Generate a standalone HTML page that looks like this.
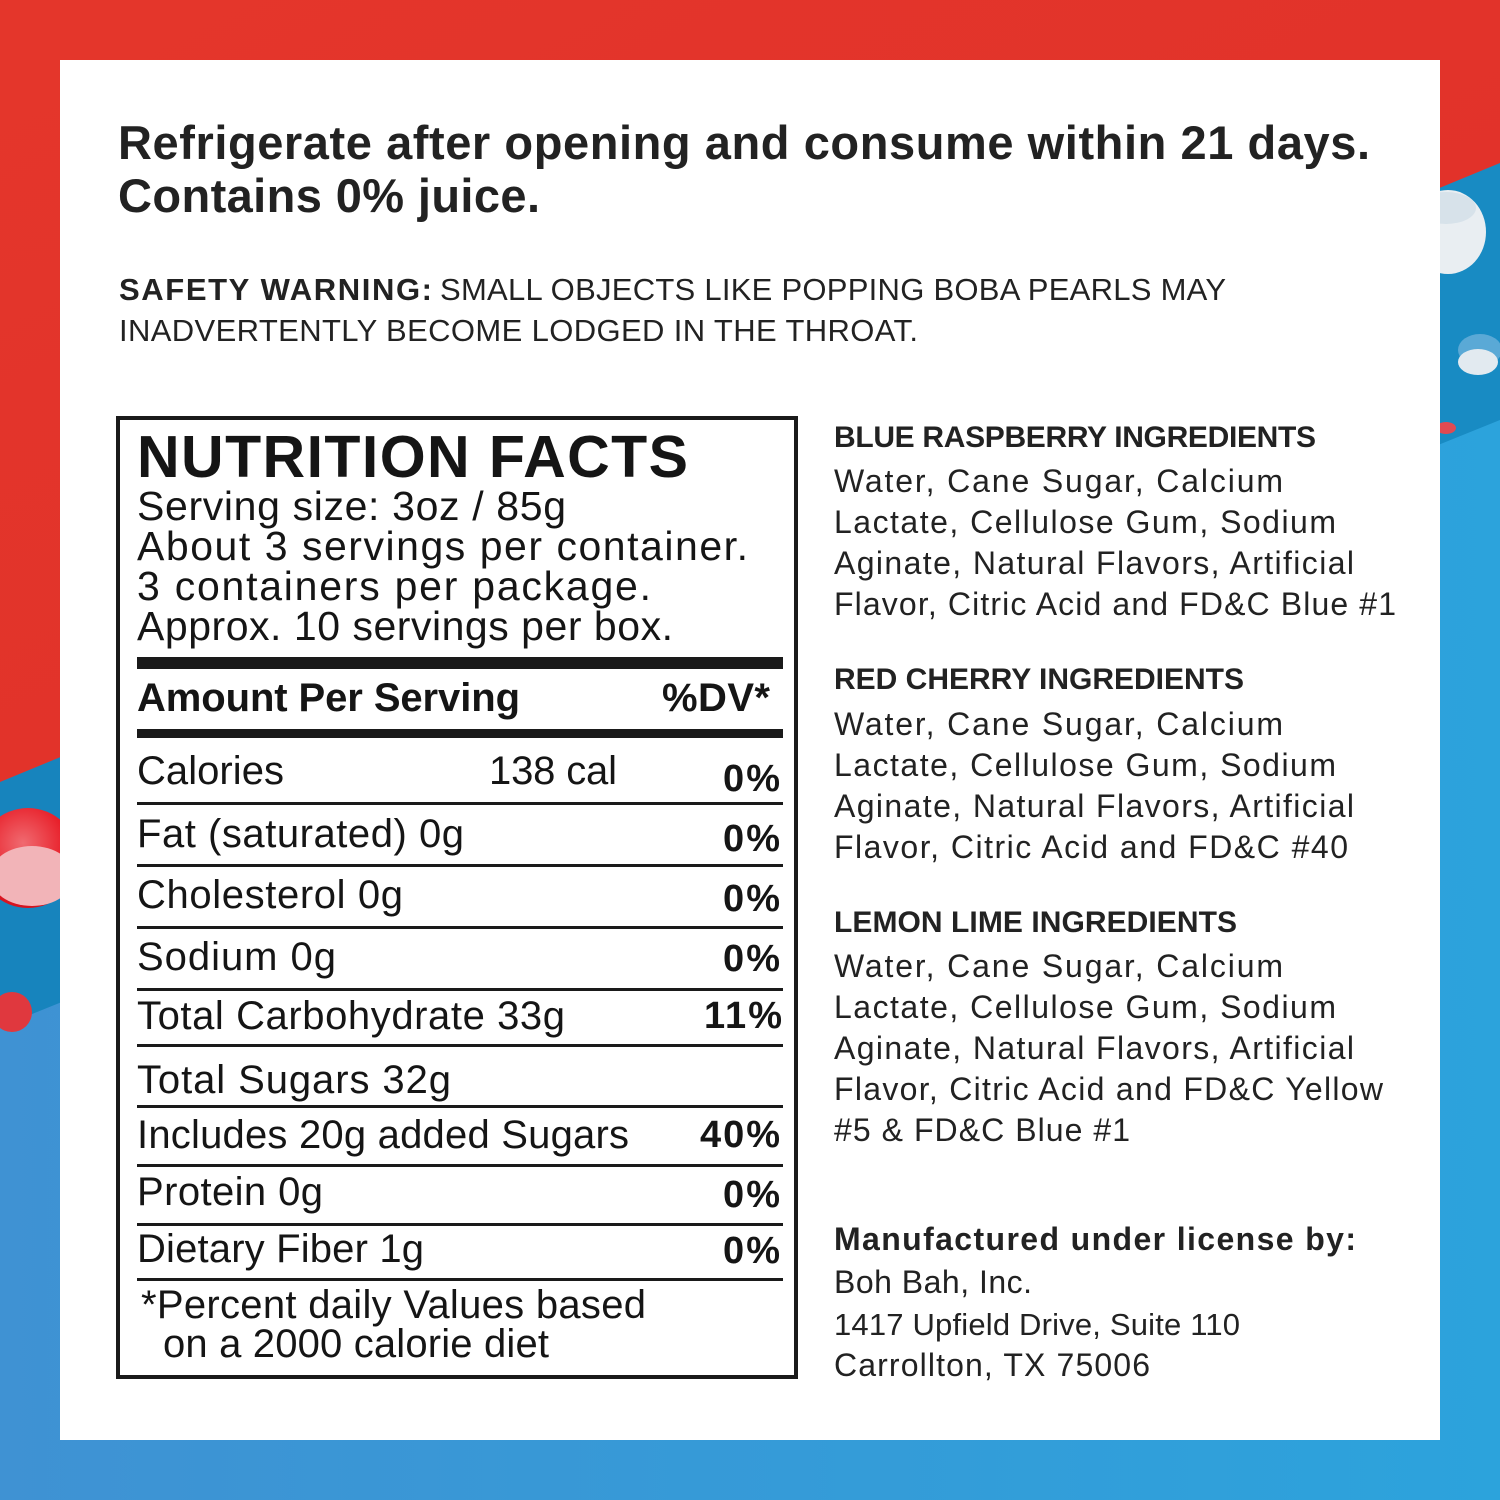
<!DOCTYPE html>
<html>
<head>
<meta charset="utf-8">
<style>
  html,body{margin:0;padding:0;width:1500px;height:1500px;overflow:hidden;background:#fff;}
  svg{display:block;}
  text{font-family:"Liberation Sans", Arial, sans-serif;}
  .d{fill:#222;}
  .n{fill:#151515;}
</style>
</head>
<body>
<svg width="1500" height="1500" viewBox="0 0 1500 1500" xmlns="http://www.w3.org/2000/svg">
  <defs>
    <linearGradient id="red" x1="0" y1="0" x2="1" y2="1">
      <stop offset="0" stop-color="#e4362b"/>
      <stop offset="1" stop-color="#e0302a"/>
    </linearGradient>
    <linearGradient id="lb" x1="0" y1="0" x2="1" y2="0">
      <stop offset="0" stop-color="#3f92d3"/>
      <stop offset="1" stop-color="#2ca3dc"/>
    </linearGradient>
    <linearGradient id="db" x1="0" y1="0" x2="1" y2="0">
      <stop offset="0" stop-color="#1784bd"/>
      <stop offset="1" stop-color="#188bc3"/>
    </linearGradient>
    <radialGradient id="rb" cx="0.45" cy="0.35" r="0.7">
      <stop offset="0" stop-color="#f06a70"/>
      <stop offset="0.6" stop-color="#e8202a"/>
      <stop offset="1" stop-color="#d0101c"/>
    </radialGradient>
  </defs>

  <!-- background -->
  <rect x="0" y="0" width="1500" height="1500" fill="url(#lb)"/>
  <polygon points="0,1027 1500,420 1500,0 0,0" fill="url(#db)"/>
  <polygon points="0,782 1500,163 1500,0 0,0" fill="url(#red)"/>

  <!-- bubbles right -->
  <ellipse cx="1448" cy="232" rx="38" ry="42" fill="#e9eef2"/>
  <ellipse cx="1446" cy="208" rx="30" ry="16" fill="#cfdde7" opacity="0.7"/>
  <ellipse cx="1480" cy="350" rx="22" ry="16" fill="#5aa9d6"/>
  <ellipse cx="1478" cy="362" rx="20" ry="13" fill="#e2eaf0"/>
  <ellipse cx="1446" cy="428" rx="10" ry="6" fill="#e04a52"/>

  <!-- bubbles left -->
  <circle cx="28" cy="858" r="50" fill="url(#rb)"/>
  <ellipse cx="32" cy="876" rx="42" ry="30" fill="#f2b4b8"/>
  <circle cx="12" cy="1012" r="20" fill="#e0383e"/>

  <!-- white panel -->
  <rect x="60" y="60" width="1380" height="1380" fill="#ffffff"/>

  <!-- top heading -->
  <text class="d" x="118" y="159" font-size="47" font-weight="700" textLength="1252" lengthAdjust="spacing">Refrigerate after opening and consume within 21 days.</text>
  <text class="d" x="118" y="212" font-size="47" font-weight="700" textLength="422" lengthAdjust="spacing">Contains 0% juice.</text>

  <!-- safety warning -->
  <text class="d" x="119" y="300" font-size="31" font-weight="700" textLength="313" lengthAdjust="spacing">SAFETY WARNING:</text>
  <text class="d" x="440" y="300" font-size="31" textLength="786" lengthAdjust="spacing">SMALL OBJECTS LIKE POPPING BOBA PEARLS MAY</text>
  <text class="d" x="119" y="341" font-size="31" textLength="799" lengthAdjust="spacing">INADVERTENTLY BECOME LODGED IN THE THROAT.</text>

  <!-- nutrition box -->
  <rect x="118" y="418" width="678" height="959" fill="none" stroke="#1a1a1a" stroke-width="4"/>
  <text class="n" x="137" y="477" font-size="59" font-weight="700" textLength="551" lengthAdjust="spacing">NUTRITION FACTS</text>
  <text class="n" x="137" y="520" font-size="41" textLength="429" lengthAdjust="spacing">Serving size: 3oz / 85g</text>
  <text class="n" x="137" y="560" font-size="41" textLength="611" lengthAdjust="spacing">About 3 servings per container.</text>
  <text class="n" x="137" y="600" font-size="41" textLength="514" lengthAdjust="spacing">3 containers per package.</text>
  <text class="n" x="137" y="640" font-size="41" textLength="536" lengthAdjust="spacing">Approx. 10 servings per box.</text>

  <rect x="137" y="657" width="646" height="12" fill="#1a1a1a"/>
  <text class="n" x="137" y="711" font-size="40" font-weight="700" textLength="383" lengthAdjust="spacing">Amount Per Serving</text>
  <text class="n" x="662" y="711" font-size="40" font-weight="700" textLength="108" lengthAdjust="spacing">%DV*</text>
  <rect x="137" y="729" width="646" height="9" fill="#1a1a1a"/>

  <text class="n" x="137" y="784" font-size="40" textLength="147" lengthAdjust="spacing">Calories</text>
  <text class="n" x="489" y="784" font-size="40" textLength="128" lengthAdjust="spacing">138 cal</text>
  <text class="n" x="723" y="791" font-size="38" font-weight="700" textLength="57" lengthAdjust="spacing">0%</text>
  <rect x="137" y="802" width="646" height="3" fill="#1a1a1a"/>

  <text class="n" x="137" y="847" font-size="40" textLength="327" lengthAdjust="spacing">Fat (saturated)  0g</text>
  <text class="n" x="723" y="851" font-size="38" font-weight="700" textLength="57" lengthAdjust="spacing">0%</text>
  <rect x="137" y="864" width="646" height="3" fill="#1a1a1a"/>

  <text class="n" x="137" y="908" font-size="40" textLength="266" lengthAdjust="spacing">Cholesterol  0g</text>
  <text class="n" x="723" y="911" font-size="38" font-weight="700" textLength="57" lengthAdjust="spacing">0%</text>
  <rect x="137" y="926" width="646" height="3" fill="#1a1a1a"/>

  <text class="n" x="137" y="970" font-size="40" textLength="199" lengthAdjust="spacing">Sodium  0g</text>
  <text class="n" x="723" y="971" font-size="38" font-weight="700" textLength="57" lengthAdjust="spacing">0%</text>
  <rect x="137" y="988" width="646" height="3" fill="#1a1a1a"/>

  <text class="n" x="137" y="1029" font-size="40" textLength="428" lengthAdjust="spacing">Total Carbohydrate  33g</text>
  <text class="n" x="704" y="1028" font-size="38" font-weight="700" textLength="78" lengthAdjust="spacing">11%</text>
  <rect x="137" y="1044" width="646" height="3" fill="#1a1a1a"/>

  <text class="n" x="137" y="1093" font-size="40" textLength="314" lengthAdjust="spacing">Total Sugars  32g</text>
  <rect x="137" y="1105" width="646" height="3" fill="#1a1a1a"/>

  <text class="n" x="137" y="1148" font-size="40" textLength="492" lengthAdjust="spacing">Includes 20g added Sugars</text>
  <text class="n" x="700" y="1147" font-size="38" font-weight="700" textLength="80" lengthAdjust="spacing">40%</text>
  <rect x="137" y="1164" width="646" height="3" fill="#1a1a1a"/>

  <text class="n" x="137" y="1205" font-size="40" textLength="186" lengthAdjust="spacing">Protein 0g</text>
  <text class="n" x="723" y="1207" font-size="38" font-weight="700" textLength="57" lengthAdjust="spacing">0%</text>
  <rect x="137" y="1223" width="646" height="3" fill="#1a1a1a"/>

  <text class="n" x="137" y="1262" font-size="40" textLength="287" lengthAdjust="spacing">Dietary Fiber 1g</text>
  <text class="n" x="723" y="1263" font-size="38" font-weight="700" textLength="57" lengthAdjust="spacing">0%</text>
  <rect x="137" y="1278" width="646" height="3" fill="#1a1a1a"/>

  <text class="n" x="141" y="1318" font-size="40" textLength="505" lengthAdjust="spacing">*Percent daily Values based</text>
  <text class="n" x="163" y="1357" font-size="40" textLength="386" lengthAdjust="spacing">on a 2000 calorie diet</text>

  <!-- right column -->
  <text class="d" x="834" y="447" font-size="30" font-weight="700" textLength="482" lengthAdjust="spacing">BLUE RASPBERRY INGREDIENTS</text>
  <text class="d" x="834" y="492" font-size="32" textLength="449" lengthAdjust="spacing">Water, Cane Sugar, Calcium</text>
  <text class="d" x="834" y="533" font-size="32" textLength="502" lengthAdjust="spacing">Lactate, Cellulose Gum, Sodium</text>
  <text class="d" x="834" y="574" font-size="32" textLength="520" lengthAdjust="spacing">Aginate, Natural Flavors, Artificial</text>
  <text class="d" x="834" y="615" font-size="32" textLength="562" lengthAdjust="spacing">Flavor, Citric Acid and FD&amp;C Blue #1</text>

  <text class="d" x="834" y="689" font-size="30" font-weight="700" textLength="410" lengthAdjust="spacing">RED CHERRY INGREDIENTS</text>
  <text class="d" x="834" y="735" font-size="32" textLength="449" lengthAdjust="spacing">Water, Cane Sugar, Calcium</text>
  <text class="d" x="834" y="776" font-size="32" textLength="502" lengthAdjust="spacing">Lactate, Cellulose Gum, Sodium</text>
  <text class="d" x="834" y="817" font-size="32" textLength="520" lengthAdjust="spacing">Aginate, Natural Flavors, Artificial</text>
  <text class="d" x="834" y="858" font-size="32" textLength="514" lengthAdjust="spacing">Flavor, Citric Acid and FD&amp;C #40</text>

  <text class="d" x="834" y="932" font-size="30" font-weight="700" textLength="403" lengthAdjust="spacing">LEMON LIME INGREDIENTS</text>
  <text class="d" x="834" y="977" font-size="32" textLength="449" lengthAdjust="spacing">Water, Cane Sugar, Calcium</text>
  <text class="d" x="834" y="1018" font-size="32" textLength="502" lengthAdjust="spacing">Lactate, Cellulose Gum, Sodium</text>
  <text class="d" x="834" y="1059" font-size="32" textLength="520" lengthAdjust="spacing">Aginate, Natural Flavors, Artificial</text>
  <text class="d" x="834" y="1100" font-size="32" textLength="549" lengthAdjust="spacing">Flavor, Citric Acid and FD&amp;C Yellow</text>
  <text class="d" x="834" y="1141" font-size="32" textLength="296" lengthAdjust="spacing">#5 &amp; FD&amp;C Blue #1</text>

  <text class="d" x="834" y="1250" font-size="32" font-weight="700" textLength="522" lengthAdjust="spacing">Manufactured under license by:</text>
  <text class="d" x="834" y="1293" font-size="32" textLength="198" lengthAdjust="spacing">Boh Bah, Inc.</text>
  <text class="d" x="834" y="1335" font-size="31" textLength="406" lengthAdjust="spacing">1417 Upfield Drive, Suite 110</text>
  <text class="d" x="834" y="1376" font-size="32" textLength="316" lengthAdjust="spacing">Carrollton, TX 75006</text>
</svg>
</body>
</html>
